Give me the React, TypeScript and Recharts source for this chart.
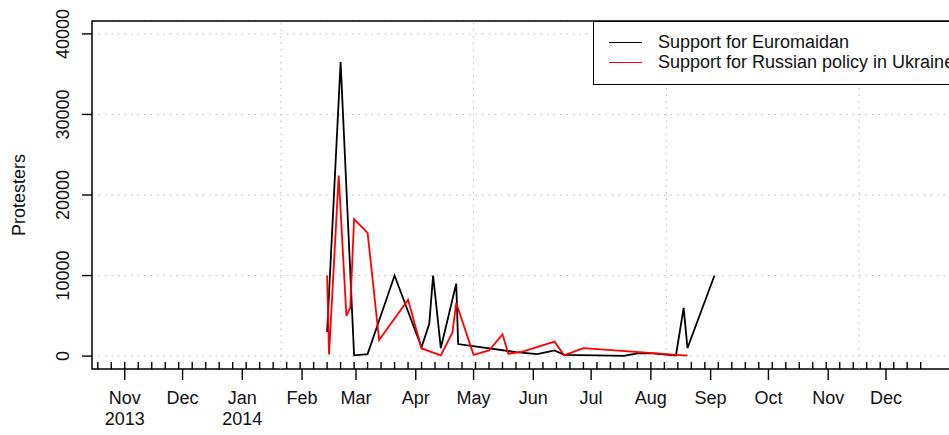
import React from "react";
import {
  LineChart,
  Line,
  XAxis,
  YAxis,
  CartesianGrid,
  ReferenceLine,
  ReferenceArea,
  Legend,
} from "recharts";

// day 0 = 1 Nov 2013
const ORIGIN = Date.UTC(2013, 10, 1);
const toDay = (s: string) => {
  const [y, m, d] = s.split("-").map(Number);
  return Math.round((Date.UTC(y, m - 1, d) - ORIGIN) / 86400000);
};

const EURO_DATES = [
  "2014-02-14", "2014-02-21", "2014-02-28", "2014-03-07", "2014-03-21",
  "2014-04-04", "2014-04-08", "2014-04-10", "2014-04-14", "2014-04-22",
  "2014-04-23", "2014-05-23", "2014-06-03", "2014-06-12", "2014-06-17",
  "2014-07-04", "2014-07-18", "2014-07-25", "2014-08-02", "2014-08-14",
  "2014-08-18", "2014-08-20", "2014-09-03",
];
const EURO_VALUES = [
  3000, 36500, 100, 250, 10000,
  1100, 4000, 10000, 1000, 9000,
  1500, 500, 250, 700, 150,
  90, 20, 330, 330, 80,
  6000, 1000, 10000,
];

const RUSSIA_DATES = [
  "2014-02-14", "2014-02-15", "2014-02-20", "2014-02-24", "2014-02-26",
  "2014-02-28", "2014-03-07", "2014-03-13", "2014-03-28", "2014-04-04",
  "2014-04-14", "2014-04-20", "2014-04-22", "2014-05-01", "2014-05-09",
  "2014-05-16", "2014-05-19", "2014-05-26", "2014-06-12", "2014-06-17",
  "2014-06-27", "2014-08-20",
];
const RUSSIA_VALUES = [
  10000, 200, 22400, 5000, 6000,
  17000, 15300, 2000, 7000, 950,
  100, 2900, 6600, 150, 700,
  2700, 300, 530, 1800, 100,
  1000, 50,
];

const MONTH_DATES = [
  "2013-11-01", "2013-12-01", "2014-01-01", "2014-02-01", "2014-03-01",
  "2014-04-01", "2014-05-01", "2014-06-01", "2014-07-01", "2014-08-01",
  "2014-09-01", "2014-10-01", "2014-11-01", "2014-12-01",
];
const MONTH_LABELS = [
  ["Nov", "2013"], ["Dec"], ["Jan", "2014"], ["Feb"], ["Mar"],
  ["Apr"], ["May"], ["Jun"], ["Jul"], ["Aug"],
  ["Sep"], ["Oct"], ["Nov"], ["Dec"],
];
const GRID_DATES = ["2014-01-21", "2014-05-01", "2014-08-09", "2014-11-17"];
const Y_TICKS = [0, 10000, 20000, 30000, 40000];

const SERIES_NAMES = ["Support for Euromaidan", "Support for Russian policy in Ukraine"];
const SERIES_COLORS = ["#000000", "#ff0000"];

const FONT = "'Liberation Sans', Arial, Helvetica, sans-serif";
const FS = 18;

const euroData = EURO_DATES.map((d, i) => ({ t: toDay(d), v: EURO_VALUES[i] }));
const russiaData = RUSSIA_DATES.map((d, i) => ({ t: toDay(d), v: RUSSIA_VALUES[i] }));
const monthDays = MONTH_DATES.map(toDay);

// weekly minor ticks (Fridays)
const weekDays: number[] = [];
for (let d = toDay("2013-10-18"); d <= toDay("2014-12-19"); d += 7) weekDays.push(d);
const allTicks = Array.from(new Set([...monthDays, ...weekDays])).sort((a, b) => a - b);

const XTick = (props: any) => {
  const { x, y, payload } = props;
  const v = payload.value;
  const mi = monthDays.indexOf(v);
  const isWeek = weekDays.includes(v);
  return (
    <g>
      {isWeek && <line x1={x} x2={x} y1={y} y2={y - 7} stroke="#000" strokeWidth={1.4} />}
      {mi >= 0 && (
        <g>
          <line x1={x} x2={x} y1={y} y2={y + 11} stroke="#000" strokeWidth={1.4} />
          {MONTH_LABELS[mi].map((s, k) => (
            <text
              key={k}
              x={x}
              y={y + 35 + k * 21}
              textAnchor="middle"
              fontSize={FS}
              fontFamily={FONT}
              fill="#111"
            >
              {s}
            </text>
          ))}
        </g>
      )}
    </g>
  );
};

const YTick = (props: any) => {
  const { x, y, payload } = props;
  return (
    <g>
      <line x1={x - 10} x2={x} y1={y} y2={y} stroke="#000" strokeWidth={1.4} />
      <text
        transform={`translate(${x - 23},${y}) rotate(-90)`}
        textAnchor="middle"
        fontSize={FS}
        fontFamily={FONT}
        fill="#111"
      >
        {payload.value}
      </text>
    </g>
  );
};

const YLabel = (props: any) => {
  const vb = props.viewBox;
  return (
    <text
      transform={`translate(${vb.x + 25},${vb.y + vb.height / 2}) rotate(-90)`}
      textAnchor="middle"
      fontSize={FS}
      fontFamily={FONT}
      fill="#111"
    >
      Protesters
    </text>
  );
};

const LegendBox = (props: any) => {
  const items = props.payload || [];
  return (
    <div
      style={{
        width: 392,
        height: 64,
        boxSizing: "border-box",
        border: "1.5px solid #000",
        background: "#fff",
        paddingTop: 10,
        fontFamily: FONT,
        fontSize: FS,
        color: "#111",
      }}
    >
      {items.map((it: any, i: number) => (
        <div key={i} style={{ display: "flex", alignItems: "center", height: 20.5, whiteSpace: "nowrap" }}>
          <span style={{ display: "inline-block", width: 33, height: 0, borderTop: `1.5px solid ${it.color}`, marginLeft: 15, marginRight: 16 }} />
          <span>{it.value}</span>
        </div>
      ))}
    </div>
  );
};

export default function App() {
  return (
    <div
      style={{
        position: "absolute",
        left: 0,
        top: 0,
        width: 949,
        height: 435,
        overflow: "hidden",
        background: "#fff",
      }}
    >
      <LineChart width={985} height={435} margin={{ top: 21, right: 20, bottom: 0, left: 0 }}>
        <CartesianGrid vertical={false} stroke="#bdbdbd" strokeDasharray="1.5 5" />
        {GRID_DATES.map((d) => (
          <ReferenceLine key={d} x={toDay(d)} stroke="#bdbdbd" strokeDasharray="1.5 5" />
        ))}
        <XAxis
          type="number"
          dataKey="t"
          domain={[-17, 436]}
          allowDataOverflow
          ticks={allTicks}
          interval={0}
          tickSize={0}
          tickMargin={0}
          axisLine={false}
          tickLine={false}
          tick={<XTick />}
          height={66}
        />
        <YAxis
          type="number"
          domain={[-1600, 41600]}
          allowDataOverflow
          ticks={Y_TICKS}
          interval={0}
          tickSize={0}
          tickMargin={0}
          axisLine={false}
          tickLine={false}
          tick={<YTick />}
          width={92}
          label={<YLabel />}
        />
        <ReferenceArea
          x1={-17}
          x2={436}
          y1={-1600}
          y2={41600}
          fill="none"
          stroke="#000"
          strokeWidth={1.5}
          ifOverflow="visible"
        />
        <Line
          data={euroData}
          dataKey="v"
          name={SERIES_NAMES[0]}
          type="linear"
          stroke={SERIES_COLORS[0]}
          strokeWidth={1.8}
          dot={false}
          isAnimationActive={false}
        />
        <Line
          data={russiaData}
          dataKey="v"
          name={SERIES_NAMES[1]}
          type="linear"
          stroke={SERIES_COLORS[1]}
          strokeWidth={1.8}
          dot={false}
          isAnimationActive={false}
        />
        <Legend
          layout="vertical"
          align="center"
          verticalAlign="middle"
          content={<LegendBox />}
          wrapperStyle={{ left: 593, top: 21, width: 392 }}
        />
      </LineChart>
    </div>
  );
}
